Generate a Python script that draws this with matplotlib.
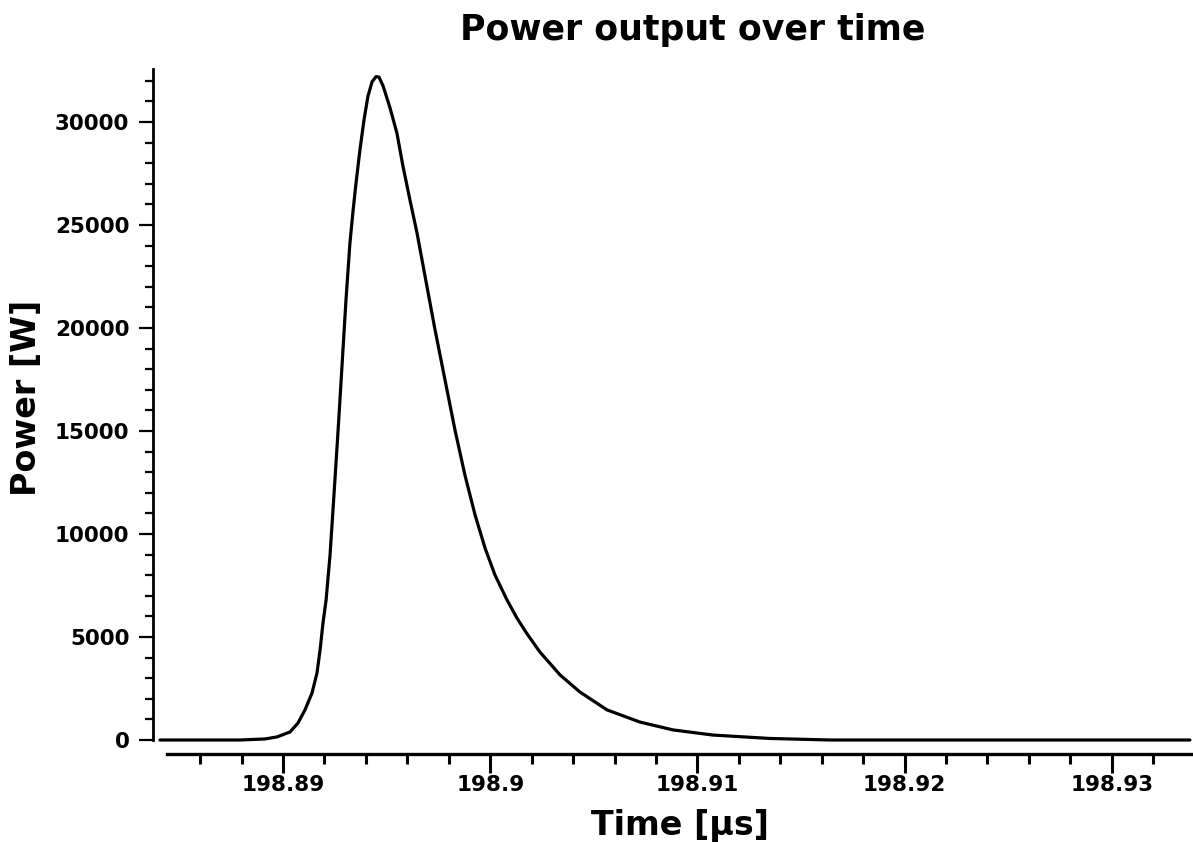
import matplotlib
matplotlib.use("Agg")
import matplotlib.pyplot as plt
from matplotlib.ticker import FixedLocator, MultipleLocator, FuncFormatter

# pulse: time in microseconds, power in watts
time_us = [
    198.88406, 198.88599, 198.88792, 198.88913, 198.88971, 198.89034, 198.89072,
    198.89106, 198.89140, 198.89164, 198.89179, 198.89193, 198.89208, 198.89227,
    198.89246, 198.89266, 198.89285, 198.89304, 198.89323, 198.89338, 198.89352,
    198.89372, 198.89391, 198.89410, 198.89430, 198.89449, 198.89463, 198.89483,
    198.89516, 198.89550, 198.89579, 198.89613, 198.89647, 198.89695, 198.89734,
    198.89782, 198.89830, 198.89878, 198.89927, 198.89975, 198.90023, 198.90081,
    198.90129, 198.90178, 198.90240, 198.90337, 198.90433, 198.90564, 198.90723,
    198.90882, 198.91075, 198.91350, 198.91640, 198.93377,
]
power_w = [
    0, 0, 0, 50, 150, 390, 820,
    1460, 2280, 3250, 4370, 5680, 6800, 8980,
    11900, 15050, 18200, 21360, 24120, 25680, 27000,
    28700, 30100, 31250, 31950, 32200, 32180, 31750,
    30700, 29450, 27850, 26200, 24600, 22000, 19900,
    17470, 15050, 12860, 10920, 9320, 8010, 6800,
    5920, 5150, 4270, 3160, 2330, 1460, 870,
    490, 240, 75, 0, 0,
]
x_ticks = [198.89, 198.9, 198.91, 198.92, 198.93]
x_minor = [198.886 + 0.002 * i for i in range(25)]
y_ticks = [0, 5000, 10000, 15000, 20000, 25000, 30000]

W, H, DPI = 1193, 842, 100
fig = plt.figure(figsize=(W / DPI, H / DPI), dpi=DPI)
# axes box: y axis at px 153, zero line at px 740, top of y axis at px 69
ax = fig.add_axes([153 / W, 1 - 740 / H, (W - 153) / W, (740 - 69) / H])

ax.plot(time_us, power_w, color="black", lw=2.3, clip_on=False,
        solid_joinstyle="round", solid_capstyle="round")

x0 = 198.89 - (283 - 153) / 20720
x1 = 198.89 + (W - 283) / 20720
ax.set_xlim(x0, x1)
ax.set_ylim(0, 32570)

for s in ("top", "right"):
    ax.spines[s].set_visible(False)
ax.spines["left"].set_linewidth(2.0)
ax.spines["bottom"].set_linewidth(2.4)
ax.spines["bottom"].set_position(("outward", 10))
ax.spines["bottom"].set_bounds(198.89 - (283 - 167) / 20720, x1)

ax.set_xticks(x_ticks)
ax.xaxis.set_minor_locator(FixedLocator([v for v in x_minor if v < x1]))
ax.set_yticks(y_ticks)
ax.yaxis.set_minor_locator(MultipleLocator(1000))
ax.xaxis.set_major_formatter(FuncFormatter(lambda v, p: f"{v:g}"))

ax.tick_params(axis="x", which="major", length=13.5, width=2.2, pad=2)
ax.tick_params(axis="x", which="minor", length=7, width=2.2)
ax.tick_params(axis="y", which="major", length=10, width=1.6, pad=7)
ax.tick_params(axis="y", which="minor", length=6, width=1.6)
for lab in ax.get_xticklabels() + ax.get_yticklabels():
    lab.set_fontsize(15.5)
    lab.set_fontweight("bold")

fig.text(693 / W, 1 - 30 / H, "Power output over time", ha="center", va="center",
         fontsize=25, fontweight="bold")
fig.text(680 / W, 1 - 826 / H, "Time [µs]", ha="center", va="center",
         fontsize=24, fontweight="bold")
fig.text(27 / W, 1 - 398 / H, "Power [W]", ha="center", va="center",
         rotation=90, fontsize=24, fontweight="bold")

fig.savefig("out.png", dpi=DPI)
